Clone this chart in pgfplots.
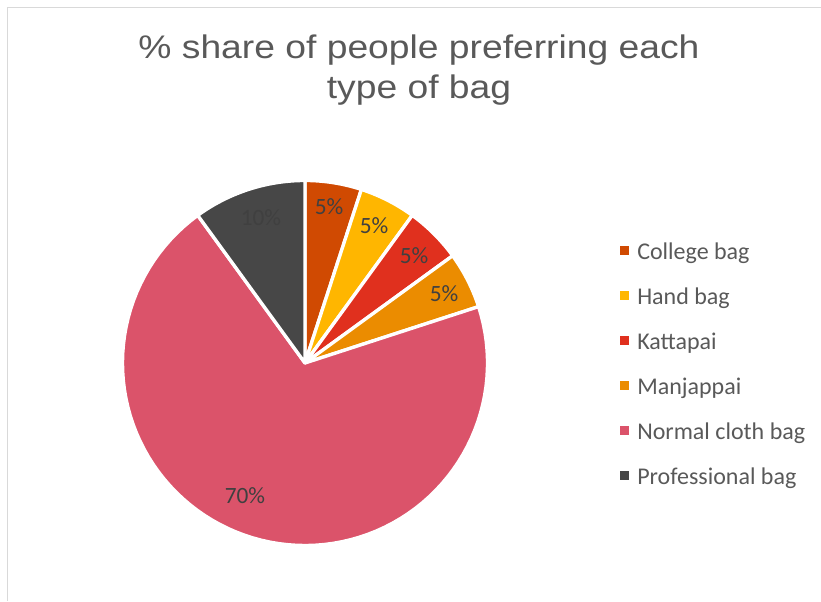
\documentclass[border=0pt]{standalone}
\usepackage{pgfplots}
\pgfplotsset{compat=1.18}
\usepackage{pgfplotstable}
\usepackage{fontspec}
\setmainfont{Carlito}
\newfontfamily\titlefont[FakeStretch=1.14]{Liberation Sans}
\definecolor{bag0}{HTML}{D04A02}
\definecolor{bag1}{HTML}{FFB600}
\definecolor{bag2}{HTML}{E0301E}
\definecolor{bag3}{HTML}{EB8C00}
\definecolor{bag4}{HTML}{DB536A}
\definecolor{bag5}{HTML}{474747}
\definecolor{titlegray}{HTML}{595959}
\definecolor{labelgray}{HTML}{404040}
\definecolor{framegray}{HTML}{D9D9D9}

% value in %, label position (pixels from top-left)
\pgfplotstableread[col sep=comma]{
name,value,lx,ly
College bag,5,329,207
Hand bag,5,374,226
Kattapai,5,414,256
Manjappai,5,444,294
Normal cloth bag,70,245,496
Professional bag,10,261,218
}\bagdata

\begin{document}
\begin{tikzpicture}
\def\startang{90}
\begin{axis}[
  width=615.75pt, height=450.75pt, scale only axis,
  xmin=0, xmax=821, ymin=0, ymax=601,
  hide axis, clip=false,
  legend cell align=left,
  legend image code/.code={\fill[#1, draw=none] (0pt,-1.55pt) rectangle (6.75pt,5.2pt);},
  legend style={at={(axis cs:616,235.5)}, anchor=west, draw=none, fill=none,
    font=\fontsize{18}{21}\selectfont, text=titlegray,
    nodes={inner sep=0pt, text height=13pt, text depth=3pt},
    row sep=17.75pt,
    /tikz/every odd column/.style={column sep=6pt}},
]
\draw[framegray, line width=0.9pt] (axis cs:7.5,0) -- (axis cs:7.5,593.5) -- (axis cs:821,593.5);
\pgfplotsforeachungrouped \i in {0,...,5}{%
  \pgfplotstablegetelem{\i}{value}\of\bagdata \let\v\pgfplotsretval
  \pgfplotstablegetelem{\i}{name}\of\bagdata \let\n\pgfplotsretval
  \pgfplotstablegetelem{\i}{lx}\of\bagdata \let\lx\pgfplotsretval
  \pgfplotstablegetelem{\i}{ly}\of\bagdata \let\ly\pgfplotsretval
  \pgfmathsetmacro\endang{\startang-3.6*\v}%
  \edef\cmd{%
    \noexpand\addplot[fill=bag\i, draw=white, line width=2.5pt, line join=round,
      domain=\endang:\startang, samples=90, variable=\noexpand\t]
      ({305+182.5*cos(\noexpand\t)},{238+182.5*sin(\noexpand\t)}) -- (axis cs:305,238) -- cycle;
    \noexpand\addlegendentry{\n}
    \noexpand\node[text=labelgray, font=\noexpand\fontsize{17.5}{20}\noexpand\selectfont, inner sep=0pt]
      at (axis cs:\lx,{601-\ly}) {\v\noexpand\%};
  }%
  \cmd
  \global\let\startang\endang
}
\node[anchor=base, text=titlegray, font=\titlefont\fontsize{24.5}{29}\selectfont, inner sep=0pt]
  at (axis cs:419,542) {\% share of people preferring each};
\node[anchor=base, text=titlegray, font=\titlefont\fontsize{24.5}{29}\selectfont, inner sep=0pt]
  at (axis cs:419,502) {type of bag};
\end{axis}
\pgfresetboundingbox
\path (0,0) rectangle (615.75pt,450.75pt);
\end{tikzpicture}
\end{document}
